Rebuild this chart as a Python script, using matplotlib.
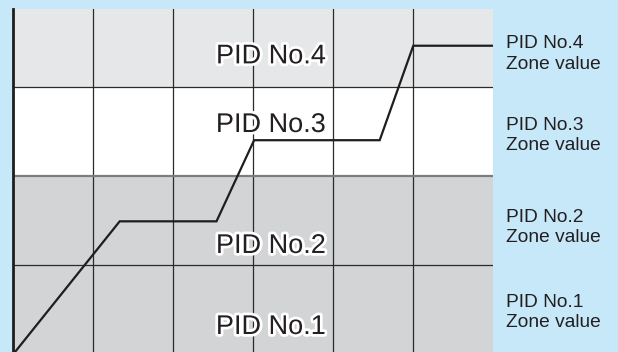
import matplotlib
matplotlib.use("Agg")
import matplotlib.pyplot as plt
import matplotlib.patheffects as pe

# ---- data ----
line_x = [0, 1.33, 2.54, 3.01, 4.58, 5.0, 6.0]
line_y = [0, 1.49, 1.49, 2.40, 2.40, 3.46, 3.46]
zone_bounds = [0, 1, 2, 3, 4]
zone_colors = ["#d3d4d6", "#d3d4d6", "#ffffff", "#e6e7e8"]
zone_labels = ["PID No.1", "PID No.2", "PID No.3", "PID No.4"]
zone_label_y = [0.226, 1.135, 2.492, 3.262]
zone_label_x = 3.22
side_labels = ["PID No.1\nZone value", "PID No.2\nZone value",
               "PID No.3\nZone value", "PID No.4\nZone value"]
side_first_baseline_px = [306.7, 221.7, 130.0, 48.3]
x_grid = [1, 2, 3, 4, 5]

W, H = 618, 352
fig = plt.figure(figsize=(W / 100, H / 100), dpi=100)
fig.patch.set_facecolor("#c6e8f8")

ax = fig.add_axes([13.3 / W, 0.0, (493.3 - 13.3) / W, 1 - 9 / H])
ax.set_xlim(0, 6)
ax.set_ylim(0.024, 3.872)
ax.set_facecolor("white")

for i in range(4):
    ax.axhspan(zone_bounds[i], zone_bounds[i + 1], color=zone_colors[i], lw=0, zorder=0)

for xv in x_grid:
    ax.axvline(xv, color="#2a2a2a", lw=0.9, zorder=1)
ax.axhline(1, color="#2a2a2a", lw=0.9, zorder=1)
ax.axhline(2, color="#7d7d7d", lw=1.6, zorder=1)
ax.axhline(3, color="#2a2a2a", lw=0.9, zorder=1)

ax.plot(line_x, line_y, color="#1e1e1e", lw=1.6, zorder=3, solid_joinstyle="miter")

for lab, yv in zip(zone_labels, zone_label_y):
    ax.text(zone_label_x, yv, lab, ha="center", va="baseline",
            fontsize=19.5, family="Liberation Sans", color="#231f20", zorder=4,
            path_effects=[pe.withStroke(linewidth=4, foreground="white")])

for s in ["top", "right", "bottom"]:
    ax.spines[s].set_visible(False)
ax.spines["left"].set_linewidth(2.0)
ax.spines["left"].set_color("#1e1e1e")
ax.set_xticks([])
ax.set_yticks([])

for lab, by in zip(side_labels, side_first_baseline_px):
    l1, l2 = lab.split("\n")
    fig.text(506 / W, 1 - by / H, l1, ha="left", va="baseline",
             fontsize=13.8, family="Liberation Sans", color="#231f20")
    fig.text(506 / W, 1 - (by + 20.5) / H, l2, ha="left", va="baseline",
             fontsize=13.8, family="Liberation Sans", color="#231f20")

fig.savefig("out.png", dpi=100, facecolor=fig.get_facecolor())
